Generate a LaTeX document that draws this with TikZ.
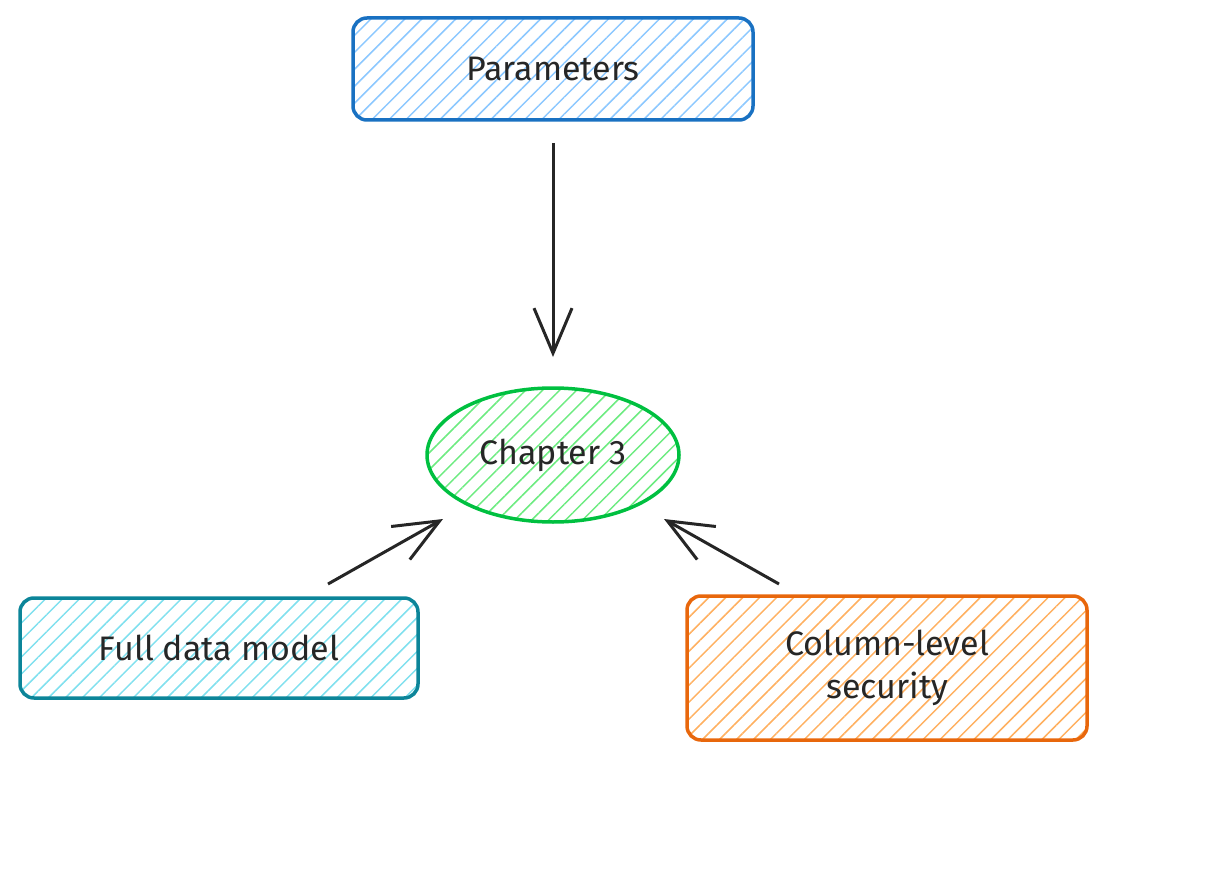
\documentclass[tikz,border=0pt]{standalone}
\usepackage{fontspec}
\setmainfont{Fira Sans}
\usetikzlibrary{patterns.meta,arrows.meta,shapes.geometric}
\definecolor{bb}{HTML}{1971C2}\definecolor{bf}{HTML}{8CC8FF}
\definecolor{gb}{HTML}{00C040}\definecolor{gf}{HTML}{6CEB80}
\definecolor{tb}{HTML}{0C8599}\definecolor{tf}{HTML}{80E0EE}
\definecolor{ob}{HTML}{E8670C}\definecolor{of}{HTML}{FFB060}
\tikzset{
 box/.style={draw=#1,line width=3.5pt,rounded corners=14pt,font=\fontsize{34}{43}\selectfont,text=black!85,align=center},
 hatch/.style={pattern={Lines[angle=45,distance=12pt,line width=1.5pt]},pattern color=#1},
 arr/.style={line width=3pt,draw=black!85,-{Straight Barb[length=45pt,width=38pt,line width=3pt]}}
}
\begin{document}
\begin{tikzpicture}[x=1pt,y=-1pt]
\useasboundingbox (0,0) rectangle (1228,882);
\node[box=bb,hatch=bf,minimum width=400pt,minimum height=102pt] (p) at (553,69) {Parameters};
\node[box=gb,hatch=gf,ellipse,rounded corners=0pt,minimum width=252pt,minimum height=134pt,inner sep=0pt] (c) at (553,455) {Chapter 3};
\node[box=tb,hatch=tf,minimum width=398pt,minimum height=100pt] (f) at (219,648) {Full data model};
\node[box=ob,hatch=of,minimum width=400pt,minimum height=144pt] (s) at (887,668) {Column-level\\security};
\coordinate (a1) at (553,143); \coordinate (a2) at (328,584); \coordinate (a3) at (779,584);
\coordinate (b1) at (553,357); \coordinate (b2) at (443,519); \coordinate (b3) at (664,519);
\draw[arr] (a1) -- (b1);
\draw[arr] (a2) -- (b2);
\draw[arr] (a3) -- (b3);
\end{tikzpicture}
\end{document}
